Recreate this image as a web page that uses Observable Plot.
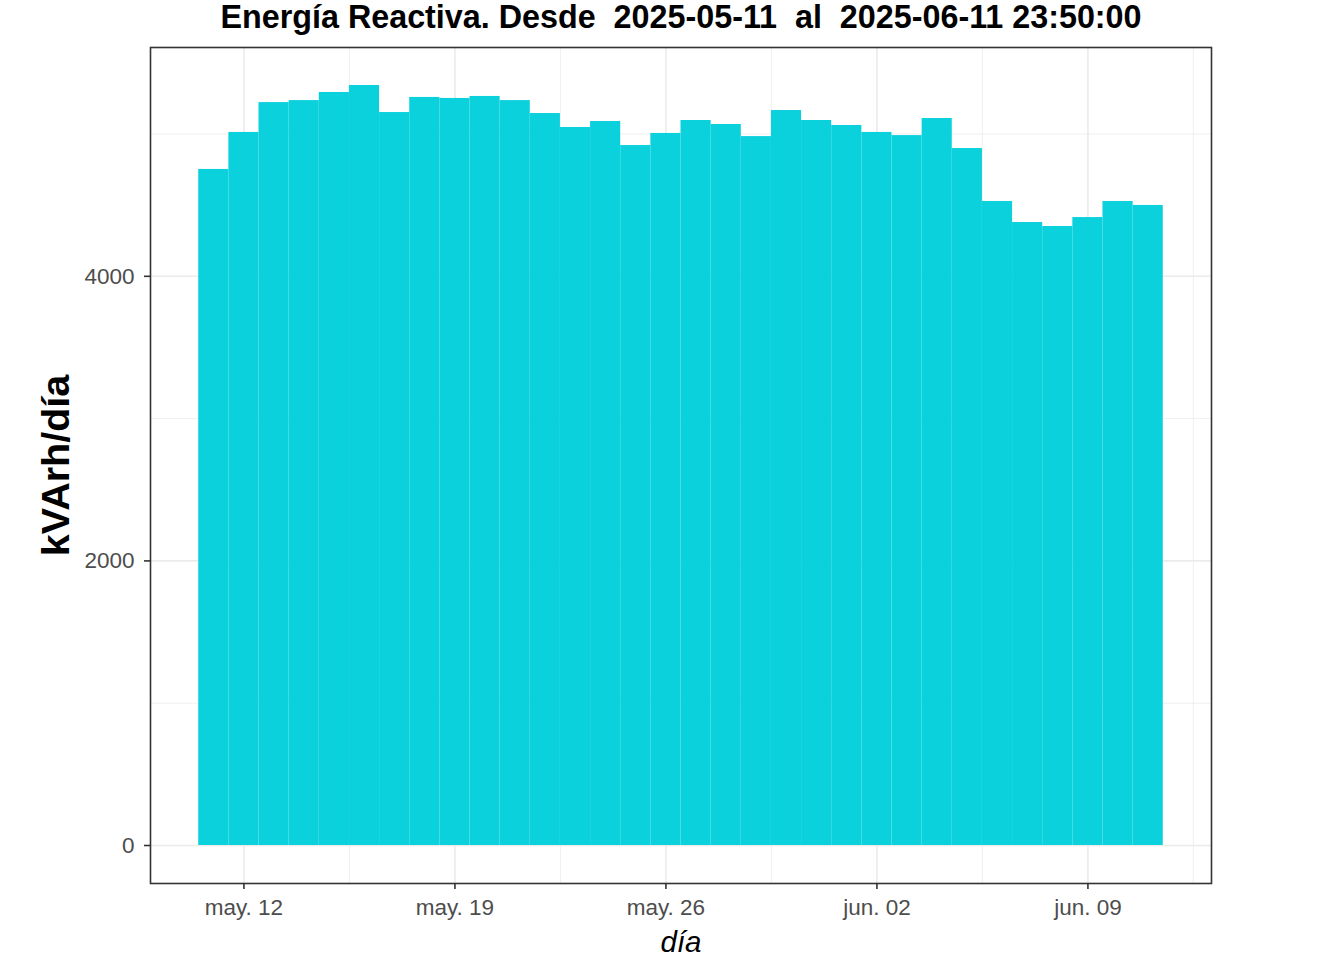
<!DOCTYPE html>
<html>
<head>
<meta charset="utf-8">
<script src="https://cdn.jsdelivr.net/npm/d3@7"></script>
<script src="https://cdn.jsdelivr.net/npm/@observablehq/plot@0.6"></script>
<style>
  html, body { margin: 0; padding: 0; background: #fff; }
  svg text { white-space: pre; }
</style>
</head>
<body>
<div id="chart"></div>
<script>
const titleText = ["Energía Reactiva. Desde  2025-05-11  al  2025-06-11 23:50:00"];
const xLabel = ["día"];
const yLabel = ["kVArh/día"];

const days = [
  "2025-05-11","2025-05-12","2025-05-13","2025-05-14","2025-05-15","2025-05-16","2025-05-17","2025-05-18",
  "2025-05-19","2025-05-20","2025-05-21","2025-05-22","2025-05-23","2025-05-24","2025-05-25","2025-05-26",
  "2025-05-27","2025-05-28","2025-05-29","2025-05-30","2025-05-31","2025-06-01","2025-06-02","2025-06-03",
  "2025-06-04","2025-06-05","2025-06-06","2025-06-07","2025-06-08","2025-06-09","2025-06-10","2025-06-11"
];
const values = [
  4751, 5011, 5221, 5235, 5292, 5341, 5151, 5257,
  5250, 5264, 5235, 5144, 5046, 5088, 4919, 5004,
  5095, 5067, 4982, 5165, 5095, 5060, 5011, 4989,
  5109, 4898, 4526, 4378, 4350, 4413, 4526, 4498
];

const xTickDates = ["2025-05-12","2025-05-19","2025-05-26","2025-06-02","2025-06-09"];
const xTickLabels = ["may. 12","may. 19","may. 26","jun. 02","jun. 09"];
const yTicks = [0, 2000, 4000];
const yMinorTicks = [1000, 3000, 5000];

const HALF = 12 * 3600 * 1000;
const data = days.map((d, i) => ({date: new Date(d + "T00:00:00Z"), value: values[i]}));
const xTicks = xTickDates.map(d => new Date(d + "T00:00:00Z"));

// ggplot-like 5% expansion
const x0 = +data[0].date - HALF, x1 = +data[data.length - 1].date + HALF;
const xe = (x1 - x0) * 0.05;
const xDomain = [new Date(x0 - xe), new Date(x1 + xe)];
const yMax = d3.max(values);
const yDomain = [-0.05 * yMax, yMax * 1.05];

// minor x grid: midpoints between major ticks, extended one step each side
const step = +xTicks[1] - +xTicks[0];
const xMinor = [];
for (let i = -1; i < xTicks.length; i++) {
  const m = +xTicks[0] + (i + 0.5) * step;
  if (m > +xDomain[0] && m < +xDomain[1]) xMinor.push(new Date(m));
}

const font = "'Liberation Sans', Arial, sans-serif";
const gridColor = "#ebebeb";

const chart = Plot.plot({
  width: 1344,
  height: 960,
  marginLeft: 150,
  marginRight: 133,
  marginTop: 47,
  marginBottom: 77,
  style: {fontFamily: font, background: "#fff", color: "#333333"},
  x: {type: "utc", domain: xDomain, axis: null},
  y: {domain: yDomain, axis: null},
  marks: [
    Plot.ruleY(yMinorTicks, {stroke: gridColor, strokeWidth: 0.8}),
    Plot.ruleX(xMinor, {stroke: gridColor, strokeWidth: 0.8}),
    Plot.ruleY(yTicks, {stroke: gridColor, strokeWidth: 1.6}),
    Plot.ruleX(xTicks, {stroke: gridColor, strokeWidth: 1.6}),
    Plot.rectY(data, {
      x1: d => new Date(+d.date - HALF),
      x2: d => new Date(+d.date + HALF),
      y1: 0,
      y2: "value",
      fill: "#0bd1dc",
      inset: 0
    }),
    Plot.frame({stroke: "#333333", strokeWidth: 1.6}),
    Plot.axisY({
      ticks: yTicks, tickSize: 6, tickPadding: 10, fontSize: 22.5,
      stroke: "#333333", strokeWidth: 1.6, fill: "#4d4d4d", label: null, tickFormat: d => String(d)
    }),
    Plot.axisX({
      ticks: xTicks, tickSize: 6, tickPadding: 10, fontSize: 22.5,
      stroke: "#333333", strokeWidth: 1.6, fill: "#4d4d4d", label: null,
      tickFormat: (d) => xTickLabels[xTicks.findIndex(t => +t === +d)]
    }),
    Plot.text(titleText, {
      frameAnchor: "top", dy: -30, fontSize: 32.3, fontWeight: "bold", fill: "#000",
      lineAnchor: "middle", textAnchor: "middle"
    }),
    Plot.text(xLabel, {
      frameAnchor: "bottom", dy: 59, fontSize: 29.5, fontStyle: "italic", fill: "#000",
      lineAnchor: "middle", textAnchor: "middle"
    }),
    Plot.text(yLabel, {
      frameAnchor: "left", dx: -94, rotate: -90, fontSize: 39.5, fontWeight: "bold", fill: "#000",
      lineAnchor: "middle", textAnchor: "middle"
    })
  ]
});
document.getElementById("chart").appendChild(chart);
</script>
</body>
</html>
